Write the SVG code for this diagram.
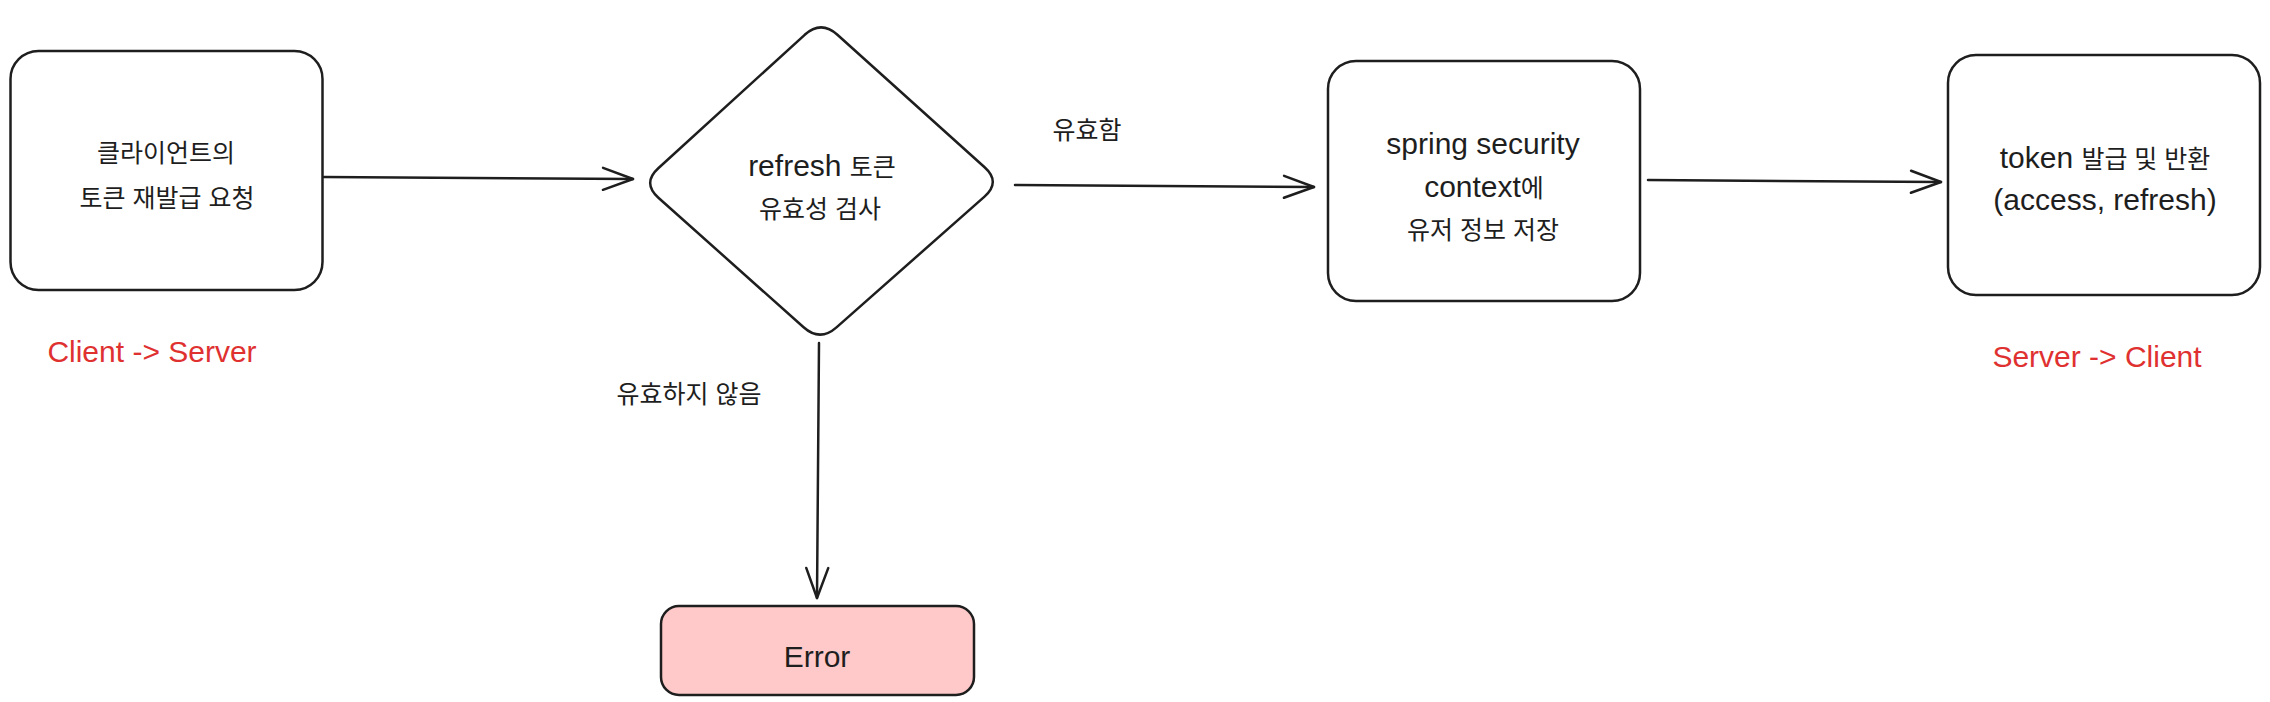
<svg xmlns="http://www.w3.org/2000/svg" width="2270" height="702" viewBox="0 0 2270 702">
<style>
.box{fill:#ffffff;stroke:#1e1e1e;stroke-width:2.5;stroke-linejoin:round}
.err{fill:#ffc9c9}
.conn{fill:none;stroke:#1e1e1e;stroke-width:2.5;stroke-linecap:round}
text{font-family:"Liberation Sans","Noto Sans CJK KR",sans-serif;font-size:30px;fill:#1e1e1e;text-anchor:middle}
.ko{font-size:25px}
.red{fill:#e03131}
</style>
<defs>
<marker id="arr" viewBox="0 0 32 24" refX="31" refY="12" markerWidth="32" markerHeight="24" markerUnits="userSpaceOnUse" orient="auto" overflow="visible">
<path d="M1,1 L31,12 L1,23" fill="none" stroke="#1e1e1e" stroke-width="2.5" stroke-linecap="round" stroke-linejoin="round"/>
</marker>
</defs>
<rect width="2270" height="702" fill="#ffffff"/>
<g id="connectors">
<path class="conn" d="M324,177 L633,179" marker-end="url(#arr)"/>
<path class="conn" d="M1015,185 L1314,187" marker-end="url(#arr)"/>
<path class="conn" d="M1648,180 L1941,182" marker-end="url(#arr)"/>
<path class="conn" d="M819,343 L817,598" marker-end="url(#arr)"/>
</g>
<g id="client-request">
<rect class="box" x="10.5" y="51" width="312" height="239" rx="28"/>
<text class="ko" x="166" y="162">클라이언트의</text>
<text class="ko" x="167" y="207">토큰 재발급 요청</text>
</g>
<g id="client-label">
<text class="red" x="152" y="362">Client -&gt; Server</text>
</g>
<g id="validate">
<path class="box" d="M804.7,34.8 Q821,20 837.4,34.7 L984.6,167.3 Q1001,182 984.5,196.6 L836.5,327.4 Q820,342 803.6,327.3 L658.4,197.7 Q642,183 658.3,168.2 Z"/>
<text x="822" y="176">refresh <tspan class="ko">토큰</tspan></text>
<text class="ko" x="820" y="218">유효성 검사</text>
</g>
<g id="label-valid">
<text class="ko" x="1087" y="139">유효함</text>
</g>
<g id="label-invalid">
<text class="ko" x="689" y="403">유효하지 않음</text>
</g>
<g id="error">
<rect class="box err" x="661" y="606" width="313" height="89" rx="18"/>
<text x="817" y="667">Error</text>
</g>
<g id="store-context">
<rect class="box" x="1328" y="61" width="312" height="240" rx="28"/>
<text x="1483" y="154">spring security</text>
<text x="1484" y="197">context<tspan class="ko">에</tspan></text>
<text class="ko" x="1483" y="239">유저 정보 저장</text>
</g>
<g id="issue-token">
<rect class="box" x="1948" y="55" width="312" height="240" rx="28"/>
<text x="2105" y="168">token <tspan class="ko">발급 및 반환</tspan></text>
<text x="2105" y="210">(access, refresh)</text>
</g>
<g id="server-label">
<text class="red" x="2097" y="367">Server -&gt; Client</text>
</g>
</svg>
